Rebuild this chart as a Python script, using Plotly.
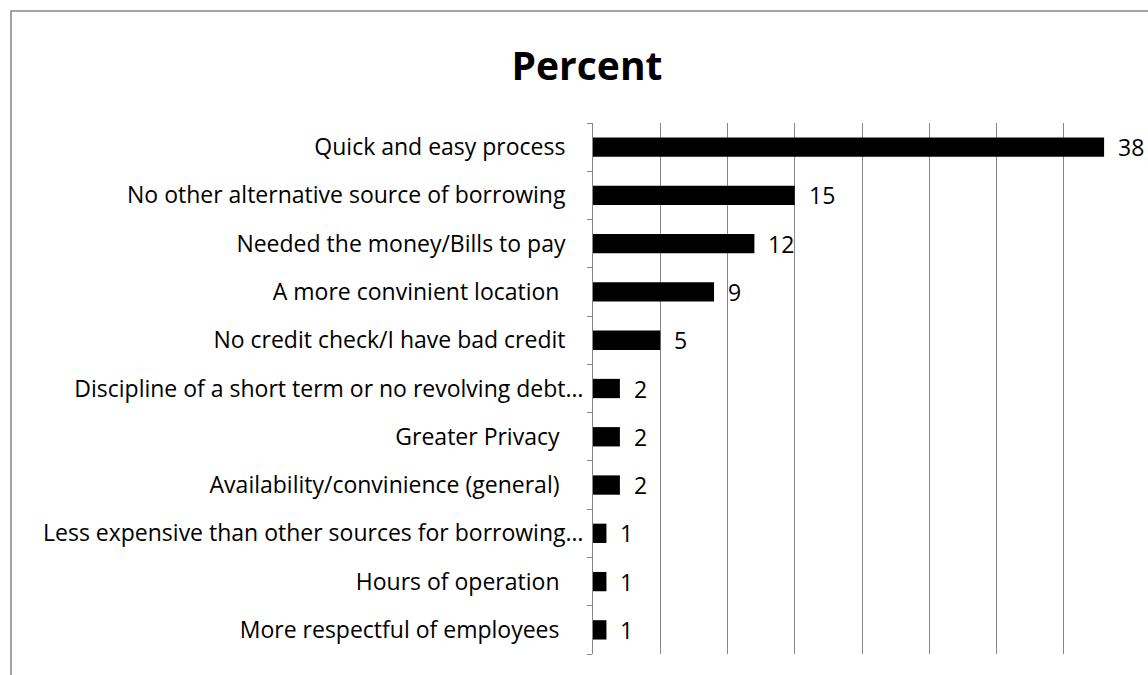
import plotly.graph_objects as go

categories = [
    "Quick and easy process",
    "No other alternative source of borrowing",
    "Needed the money/Bills to pay",
    "A more convinient location",
    "No credit check/I have bad credit",
    "Discipline of a short term or no revolving debt…",
    "Greater Privacy",
    "Availability/convinience (general)",
    "Less expensive than other sources for borrowing…",
    "Hours of operation",
    "More respectful of employees",
]
values = [38, 15, 12, 9, 5, 2, 2, 2, 1, 1, 1]
title_text = "Percent"

# right padding of each category label (in spaces), as in the source chart
label_pad = [3, 3, 3, 4, 3, 0, 4, 4, 0, 4, 4]
tick_text = [c + "\u00a0" * p for c, p in zip(categories, label_pad)]

FONT = "Open Sans"
fig = go.Figure()
fig.add_trace(go.Bar(
    x=values, y=categories, orientation="h",
    marker=dict(color="#000000", line=dict(width=0)),
    width=0.4,
    hoverinfo="skip",
))

for v, c in zip(values, categories):
    fig.add_annotation(x=v, y=c, xref="x", yref="y", text=str(v),
                       showarrow=False, xanchor="left", xshift=12,
                       font=dict(family=FONT, size=23, color="#000000"))

# outer chart border
fig.add_shape(type="rect", xref="paper", yref="paper",
              x0=-1.0818, x1=1.2, y0=-0.2, y1=1.2109,
              line=dict(color="#868686", width=1.5), layer="below")

fig.update_layout(
    width=1148, height=675,
    margin=dict(l=593, r=17, t=123, b=21),
    paper_bgcolor="white", plot_bgcolor="white",
    showlegend=False,
    title=dict(text="<b>" + title_text + "</b>", x=587/1148, xref="container",
               xanchor="center", y=1 - 66/675, yref="container", yanchor="middle",
               font=dict(family=FONT, size=39, color="#000000")),
    xaxis=dict(range=[0, 40], dtick=5, showticklabels=False, showgrid=True,
               gridcolor="#868686", gridwidth=1, zeroline=False, showline=False,
               ticks=""),
    yaxis=dict(autorange="reversed", showline=True, linecolor="#868686", linewidth=1,
               ticks="outside", tickson="boundaries", ticklen=5, tickcolor="#868686",
               showgrid=False, ticklabelstandoff=4,
               tickmode="array", tickvals=categories, ticktext=tick_text,
               tickfont=dict(family=FONT, size=23, color="#000000")),
)
fig.write_html("out.html")
